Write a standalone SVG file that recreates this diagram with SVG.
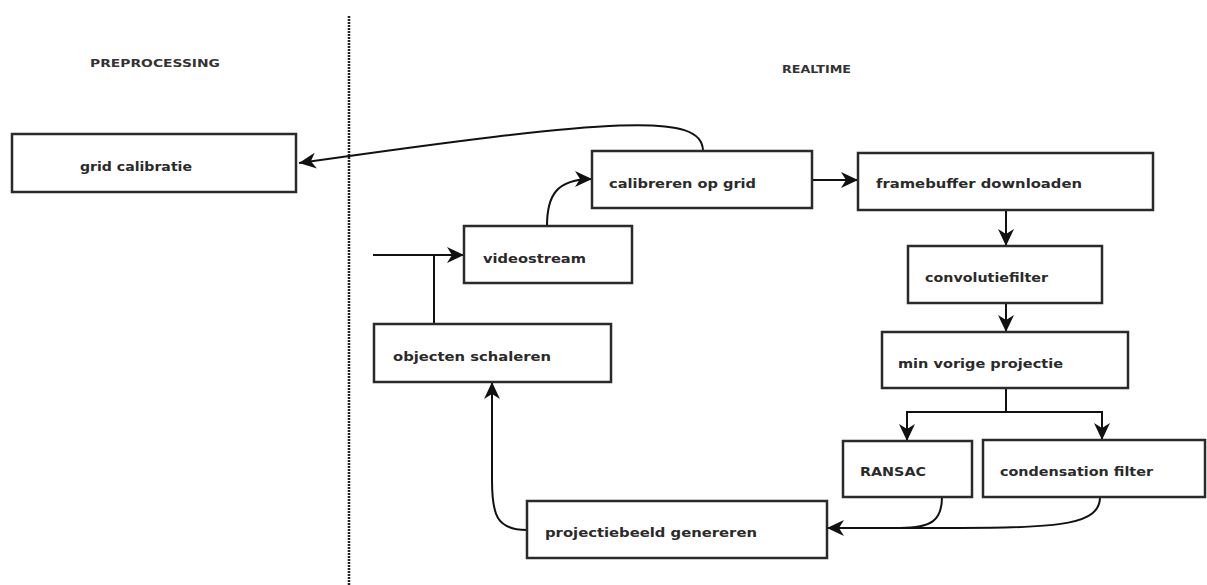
<svg xmlns="http://www.w3.org/2000/svg" width="1207" height="585" viewBox="0 0 1207 585">
  <style>
    .box { fill: #ffffff; stroke: #2a2a2a; stroke-width: 2.5; }
    .lbl { font-family: "DejaVu Sans", "Liberation Sans", sans-serif; font-weight: bold; font-size: 12.5px; fill: #2a2a2a; dominant-baseline: central; }
    .hdr { font-family: "DejaVu Sans", "Liberation Sans", sans-serif; font-weight: bold; font-size: 11px; fill: #333333; dominant-baseline: central; }
    .edge { fill: none; stroke: #111111; stroke-width: 2; }
  </style>
  <defs>
    <marker id="arrow" markerUnits="userSpaceOnUse" markerWidth="18" markerHeight="16" refX="17" refY="8" orient="auto" viewBox="0 0 18 16">
      <path d="M0,0 L17,8 L0,16 L5,8 Z" fill="#111111"/>
    </marker>
  </defs>
  <rect width="1207" height="585" fill="#ffffff"/>

  <!-- section divider -->
  <line x1="349" y1="16" x2="349" y2="585" stroke="#222222" stroke-width="2.5" stroke-dasharray="2,1"/>
  <text class="hdr" x="90" y="63" textLength="130" lengthAdjust="spacingAndGlyphs">PREPROCESSING</text>
  <text class="hdr" x="782" y="69" textLength="69" lengthAdjust="spacingAndGlyphs">REALTIME</text>

  <!-- connectors -->
  <g id="connectors">
    <path class="edge" d="M703,151 C703,112 615,118 299,163" marker-end="url(#arrow)"/>
    <path class="edge" d="M547,226 C547,196 556,179 592,179" marker-end="url(#arrow)"/>
    <path class="edge" d="M373,255 L464,255" marker-end="url(#arrow)"/>
    <path class="edge" d="M434,324 L434,255"/>
    <path class="edge" d="M812,180 L858,180" marker-end="url(#arrow)"/>
    <path class="edge" d="M1006,210 L1006,246" marker-end="url(#arrow)"/>
    <path class="edge" d="M1006,303 L1006,332" marker-end="url(#arrow)"/>
    <path class="edge" d="M1006,388 L1006,412 M907,412 L1102,412"/>
    <path class="edge" d="M907,411 L907,441" marker-end="url(#arrow)"/>
    <path class="edge" d="M1102,411 L1102,440" marker-end="url(#arrow)"/>
    <path class="edge" d="M942,497 C942,520 932,528 900,528 L827,528" marker-end="url(#arrow)"/>
    <path class="edge" d="M1100,497 C1100,524 1062,528 960,528 L900,528"/>
    <path class="edge" d="M527,530 C496,530 492,514 492,480 L492,382" marker-end="url(#arrow)"/>
  </g>

  <g id="grid-calibratie">
    <rect class="box" x="12" y="134" width="284" height="58"/>
    <text class="lbl" x="80" y="166" textLength="112" lengthAdjust="spacingAndGlyphs">grid calibratie</text>
  </g>
  <g id="calibreren-op-grid">
    <rect class="box" x="592" y="151" width="220" height="57"/>
    <text class="lbl" x="609" y="183" textLength="147" lengthAdjust="spacingAndGlyphs">calibreren op grid</text>
  </g>
  <g id="videostream">
    <rect class="box" x="464" y="226" width="168" height="57"/>
    <text class="lbl" x="483" y="258" textLength="103" lengthAdjust="spacingAndGlyphs">videostream</text>
  </g>
  <g id="framebuffer-downloaden">
    <rect class="box" x="858" y="153" width="295" height="57"/>
    <text class="lbl" x="876" y="183" textLength="206" lengthAdjust="spacingAndGlyphs">framebuffer downloaden</text>
  </g>
  <g id="convolutiefilter">
    <rect class="box" x="908" y="246" width="194" height="57"/>
    <text class="lbl" x="925" y="277" textLength="123" lengthAdjust="spacingAndGlyphs">convolutiefilter</text>
  </g>
  <g id="min-vorige-projectie">
    <rect class="box" x="882" y="332" width="246" height="56"/>
    <text class="lbl" x="898" y="363" textLength="165" lengthAdjust="spacingAndGlyphs">min vorige projectie</text>
  </g>
  <g id="ransac">
    <rect class="box" x="843" y="441" width="129" height="56"/>
    <text class="lbl" x="860" y="471" textLength="66" lengthAdjust="spacingAndGlyphs">RANSAC</text>
  </g>
  <g id="condensation-filter">
    <rect class="box" x="983" y="440" width="222" height="57"/>
    <text class="lbl" x="1000" y="471" textLength="153" lengthAdjust="spacingAndGlyphs">condensation filter</text>
  </g>
  <g id="projectiebeeld-genereren">
    <rect class="box" x="527" y="501" width="300" height="57"/>
    <text class="lbl" x="545" y="532" textLength="212" lengthAdjust="spacingAndGlyphs">projectiebeeld genereren</text>
  </g>
  <g id="objecten-schaleren">
    <rect class="box" x="374" y="324" width="237" height="58"/>
    <text class="lbl" x="393" y="356" textLength="158" lengthAdjust="spacingAndGlyphs">objecten schaleren</text>
  </g>
</svg>
